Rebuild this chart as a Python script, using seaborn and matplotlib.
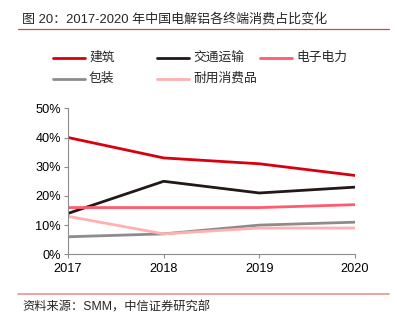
import matplotlib
matplotlib.use("Agg")
import matplotlib.pyplot as plt
import seaborn as sns
import pandas as pd
from matplotlib.lines import Line2D

years = ["2017", "2018", "2019", "2020"]
series_names = ["建筑", "交通运输", "电子电力", "包装", "耐用消费品"]
construction = [40, 33, 31, 27]
transport = [14, 25, 21, 23]
electronics = [16, 16, 16, 17]
packaging = [6, 7, 10, 11]
durables = [13, 7, 9, 9]
y_ticks = [0, 10, 20, 30, 40, 50]

colors = ["#D7000F", "#231815", "#FF5A6E", "#8C8C8C", "#FFB0B0"]

sns.set_theme(style="white")
plt.rcParams["font.family"] = ["Liberation Sans", "Noto Sans CJK SC", "DejaVu Sans"]

values = [construction, transport, electronics, packaging, durables]
rows = []
for name, vals in zip(series_names, values):
    for i, v in enumerate(vals):
        rows.append({"idx": i, "value": v, "series": name})
df = pd.DataFrame(rows)

W, H = 397, 323
fig = plt.figure(figsize=(W / 100, H / 100), dpi=100)
ax = fig.add_axes([68 / W, 1 - 254.3 / H, (355 - 68) / W, (254.3 - 108.3) / H])

sns.lineplot(data=df, x="idx", y="value", hue="series", hue_order=series_names,
             palette=colors, linewidth=2.0, legend=False, ax=ax)

ax.set_xlim(0, 3)
ax.set_ylim(0, 50)
ax.set_xticks(range(len(years)))
ax.set_xticklabels(years, fontsize=9.2)
ax.set_yticks(y_ticks)
ax.set_yticklabels([f"{t}%" for t in y_ticks], fontsize=9.2)
ax.set_xlabel("")
ax.set_ylabel("")
for s in ["top", "right"]:
    ax.spines[s].set_visible(False)
for s in ["left", "bottom"]:
    ax.spines[s].set_color("#8C8C8C")
    ax.spines[s].set_linewidth(0.8)
ax.tick_params(axis="both", which="major", direction="out", length=3, width=0.8,
               color="#8C8C8C", labelcolor="black", pad=2)
ax.tick_params(axis="x", pad=3)
ax.tick_params(left=True, bottom=True)

# Legend in three columns above the plot
positions = [(53, 58), (157, 58), (260, 58), (53, 79), (157, 79)]
for (x, y), name, c in zip(positions, series_names, colors):
    fig.add_artist(Line2D([x / W, (x + 32) / W], [1 - y / H, 1 - y / H],
                          color=c, linewidth=2.0, transform=fig.transFigure))
    fig.text((x + 36) / W, 1 - y / H, name, fontsize=9.2, va="center", ha="left")

# Title and its rule
fig.text(22 / W, 1 - 19.5 / H, "图 20：2017-2020 年中国电解铝各终端消费占比变化",
         fontsize=9.4, va="center", ha="left")
fig.add_artist(Line2D([18 / W, 389 / W], [1 - 29 / H, 1 - 29 / H],
                      color="#C0504D", linewidth=0.9, transform=fig.transFigure))

# Source rule and note
fig.add_artist(Line2D([18 / W, 389 / W], [1 - 294 / H, 1 - 294 / H],
                      color="#E8928C", linewidth=1.2, transform=fig.transFigure))
fig.text(22 / W, 1 - 307 / H, "资料来源：SMM，中信证券研究部",
         fontsize=8.8, va="center", ha="left")

fig.savefig("out.png", dpi=100)
